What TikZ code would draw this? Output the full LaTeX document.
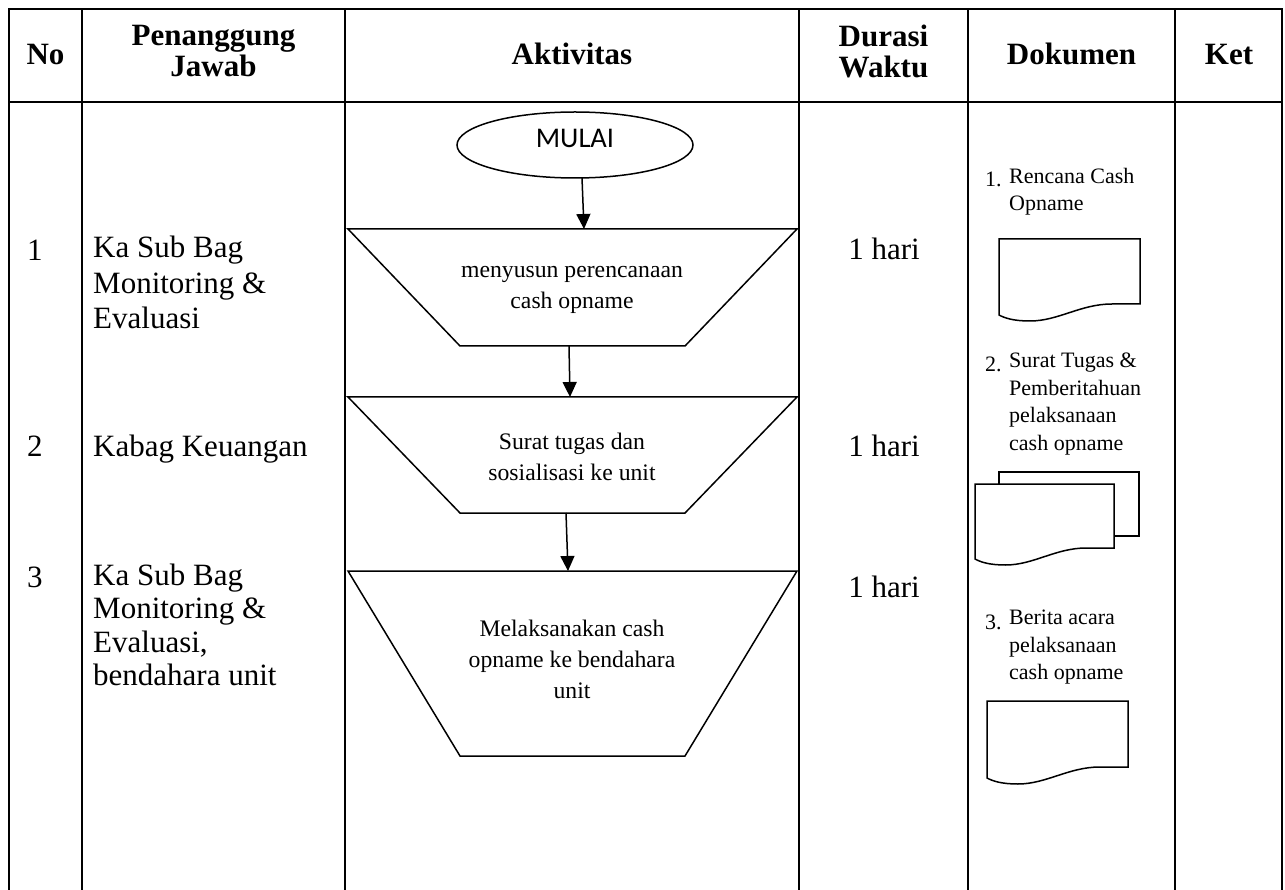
\documentclass[tikz,border=0pt]{standalone}
\usepackage{fontspec}
\setmainfont{Liberation Serif}
\newfontfamily\calibrifont{Carlito}
\usetikzlibrary{shapes.geometric,arrows.meta}

\newcommand{\fbody}{\fontsize{31}{35.5}\selectfont}
\newcommand{\fbodyb}{\fontsize{31}{33.5}\selectfont}
\newcommand{\fhead}{\fontsize{31}{31}\selectfont\bfseries}
\newcommand{\fstep}{\fontsize{23.7}{31}\selectfont}
\newcommand{\fdoc}{\fontsize{22}{27.5}\selectfont}
\newcommand{\docpath}[4]{(#1,#2) -- (#3,#2) -- (#3,#4) -- ({#3-0.2*(#3-#1)},#4) .. controls ({#3-0.42*(#3-#1)},#4) and ({#1+0.42*(#3-#1)},{#4+17}) .. ({#1+0.22*(#3-#1)},{#4+17}) .. controls ({#1+0.1*(#3-#1)},{#4+17}) and ({#1+0.04*(#3-#1)},{#4+14}) .. (#1,{#4+11}) -- cycle}

\tikzset{
  tline/.style={line width=2.6pt, line cap=rect},
  outl/.style={line width=1.5pt, line join=miter},
  arr/.style={line width=1.5pt, -{Triangle[width=14pt,length=15pt]}},
  txt/.style={inner sep=0pt, font=#1, execute at begin node={#1\strut}, execute at end node=\strut},
  plain/.style={inner sep=0pt}
}

\begin{document}
\begin{tikzpicture}[x=1pt,y=-1pt]
\fill[white] (0,0) rectangle (1285,890);
\useasboundingbox (0,0) rectangle (1285,890);

% table
\draw[tline] (9,9) -- (1282,9);
\draw[tline] (9,102) -- (1282,102);
\foreach \xx in {9,82,345,799,968,1175,1282}{
  \draw[tline] (\xx,9) -- (\xx,890);
}

% headers
\node[txt=\fhead] (hno) at (45.5,58) {No};
\node[txt=\fhead,align=center] (hpj) at (213.5,56) {Penanggung\\Jawab};
\node[txt=\fhead] (hakt) at (572,58) {Aktivitas};
\node[txt=\fhead,align=center] (hdur) at (883.5,56) {Durasi\\Waktu};
\node[txt=\fhead] (hdok) at (1071.5,58) {Dokumen};
\node[txt=\fhead] (hket) at (1229,58) {Ket};

% No column
\node[plain,font=\fbody,anchor=base west] (n1) at (27,261) {1};
\node[plain,font=\fbody,anchor=base west] (n2) at (27,456) {2};
\node[plain,font=\fbody,anchor=base west] (n3) at (27,587) {3};

% Penanggung jawab
\node[txt=\fbody,align=left,anchor=north west] (p1) at (93,236) {Ka Sub Bag\\Monitoring \&\\Evaluasi};
\node[plain,font=\fbody,anchor=base west] (p2) at (93,456) {Kabag Keuangan};
\node[txt=\fbodyb,align=left,anchor=north west] (p3) at (93,563.55) {Ka Sub Bag\\Monitoring \&\\Evaluasi,\\bendahara unit};

% Durasi
\node[plain,font=\fbody,anchor=base] (d1) at (884,260) {1 hari};
\node[plain,font=\fbody,anchor=base] (d2) at (884,456) {1 hari};
\node[plain,font=\fbody,anchor=base] (d3) at (884,597) {1 hari};

% Aktivitas flow
\node[draw,outl,ellipse,minimum width=236pt,minimum height=66pt,inner sep=0pt,
      font=\calibrifont\fontsize{28.5}{30}\selectfont,text height=10pt,text depth=5pt] (start) at (575,145) {MULAI};

\draw[outl] (348,229) -- (797,229) -- (685,346) -- (460,346) -- cycle;
\draw[outl] (348,397) -- (797,397) -- (685,513) -- (460,513) -- cycle;
\draw[outl] (348,571) -- (797,571) -- (685,756) -- (460,756) -- cycle;

\coordinate (s1out) at (582,178);
\coordinate (t1in) at (584,229);
\coordinate (t1out) at (569,346);
\coordinate (t2in) at (570,397);
\coordinate (t2out) at (566,513);
\coordinate (t3in) at (568,571);

\node[txt=\fstep,align=center] (t1) at (572,292) {menyusun perencanaan\\cash opname};
\node[txt=\fstep,align=center] (t2) at (572,461) {Surat tugas dan\\sosialisasi ke unit};
\node[txt=\fstep,align=center] (t3) at (572,664) {Melaksanakan cash\\opname ke bendahara\\unit};

\draw[arr] (s1out) -- (t1in);
\draw[arr] (t1out) -- (t2in);
\draw[arr] (t2out) -- (t3in);

% Dokumen
\node[plain,font=\fdoc,anchor=base west] (k1n) at (985,187) {1.};
\node[txt=\fdoc,align=left,anchor=north west] (k1t) at (1009,167.75) {Rencana Cash\\Opname};
\draw[outl,fill=white] \docpath{999}{239}{1140}{304};

\node[plain,font=\fdoc,anchor=base west] (k2n) at (985,372) {2.};
\node[txt=\fdoc,align=left,anchor=north west] (k2t) at (1009,352.75) {Surat Tugas \&\\Pemberitahuan\\pelaksanaan\\cash opname};
\draw[outl,fill=white] (999,472) rectangle (1139,536);
\draw[outl,fill=white] \docpath{975}{484}{1114}{548};

\node[plain,font=\fdoc,anchor=base west] (k3n) at (985,629) {3.};
\node[txt=\fdoc,align=left,anchor=north west] (k3t) at (1009,609.75) {Berita acara\\pelaksanaan\\cash opname};
\draw[outl,fill=white] \docpath{987}{701}{1128}{767};
\end{tikzpicture}
\end{document}
